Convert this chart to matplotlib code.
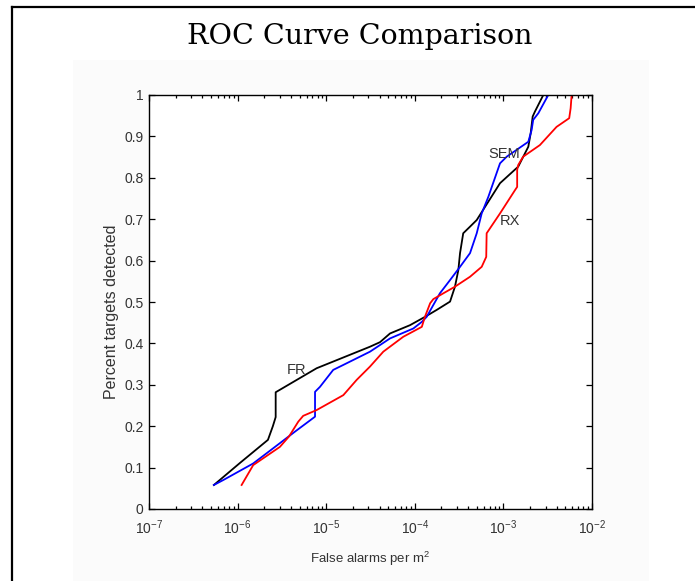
import matplotlib
matplotlib.use('Agg')
import matplotlib.pyplot as plt
from matplotlib.ticker import FixedLocator, FixedFormatter, LogLocator, NullFormatter
from matplotlib.lines import Line2D
from matplotlib.patches import Rectangle

plt.rcParams['font.family'] = ['Liberation Sans', 'DejaVu Sans']
plt.rcParams['mathtext.fontset'] = 'custom'
plt.rcParams['mathtext.rm'] = 'Liberation Sans'
plt.rcParams['mathtext.it'] = 'Liberation Sans:italic'
plt.rcParams['mathtext.bf'] = 'Liberation Sans:bold'

title = 'ROC Curve Comparison'
x_label = 'False alarms per m$^2$'
y_label = 'Percent targets detected'

x_ticks = [1e-7, 1e-6, 1e-5, 1e-4, 1e-3, 1e-2]
x_tick_labels = ['$10^{-7}$', '$10^{-6}$', '$10^{-5}$', '$10^{-4}$', '$10^{-3}$', '$10^{-2}$']
y_ticks = [0, 0.1, 0.2, 0.3, 0.4, 0.5, 0.6, 0.7, 0.8, 0.9, 1.0]
y_tick_labels = ['0', '0.1', '0.2', '0.3', '0.4', '0.5', '0.6', '0.7', '0.8', '0.9', '1']

# FR (black)
fr_x = [5.4e-7, 1.06e-6, 2.2e-6, 2.5e-6, 2.69e-6, 2.69e-6, 7.8e-6, 3.12e-5, 4.05e-5,
        5.25e-5, 8.82e-5, 1.3e-4, 1.77e-4, 2.5e-4, 2.84e-4, 3.1e-4, 3.24e-4, 3.52e-4,
        4.2e-4, 5.0e-4, 9.16e-4, 1.47e-3, 1.91e-3, 2.03e-3, 2.14e-3, 2.27e-3, 2.82e-3]
fr_y = [0.058, 0.111, 0.167, 0.200, 0.222, 0.282, 0.340, 0.392, 0.403,
        0.424, 0.444, 0.464, 0.481, 0.501, 0.537, 0.577, 0.618, 0.666,
        0.682, 0.698, 0.787, 0.827, 0.875, 0.907, 0.948, 0.960, 1.0]

# SEM (blue)
sem_x = [5.4e-7, 6.9e-7, 1.5e-6, 3.0e-6, 4.45e-6, 7.48e-6, 7.48e-6, 8.5e-6, 1.2e-5,
         1.56e-5, 3.12e-5, 5.25e-5, 9.62e-5, 1.2e-4, 1.36e-4, 1.92e-4, 2.5e-4, 3.24e-4,
         4.2e-4, 5.0e-4, 5.45e-4, 5.69e-4, 6.76e-4, 9.16e-4, 1.09e-3, 1.91e-3, 2.08e-3,
         2.17e-3, 2.48e-3, 3.21e-3]
sem_y = [0.058, 0.070, 0.110, 0.159, 0.187, 0.223, 0.283, 0.295, 0.336,
         0.348, 0.380, 0.412, 0.436, 0.452, 0.464, 0.521, 0.553, 0.585,
         0.618, 0.666, 0.698, 0.714, 0.754, 0.835, 0.851, 0.887, 0.915,
         0.940, 0.956, 1.0]

# RX (red)
rx_x = [1.11e-6, 1.5e-6, 3.0e-6, 3.8e-6, 4.84e-6, 5.5e-6, 7.8e-6, 1.56e-5, 2.21e-5,
        3.12e-5, 4.41e-5, 7.41e-5, 1.2e-4, 1.3e-4, 1.49e-4, 1.62e-4, 2.1e-4, 2.84e-4,
        4.2e-4, 5.69e-4, 6.4e-4, 6.47e-4, 9.16e-4, 1.35e-3, 1.43e-3, 1.43e-3, 1.47e-3,
        1.67e-3, 2.58e-3, 3.98e-3, 5.53e-3, 5.74e-3, 5.89e-3]
rx_y = [0.058, 0.106, 0.150, 0.175, 0.211, 0.225, 0.239, 0.275, 0.312,
        0.344, 0.380, 0.416, 0.440, 0.464, 0.497, 0.507, 0.521, 0.537,
        0.561, 0.585, 0.609, 0.666, 0.714, 0.770, 0.778, 0.819, 0.831,
        0.851, 0.879, 0.923, 0.944, 0.968, 1.0]

labels = ['FR', 'SEM', 'RX']
label_x = [4.65e-6, 1.02e-3, 1.19e-3]
label_y = [0.336, 0.857, 0.696]

W, H = 695, 581
fig = plt.figure(figsize=(W / 100, H / 100), dpi=100)
fig.patch.set_facecolor('white')

# faint inner panel
fig.patches.append(Rectangle((73 / W, 0), (649 - 73) / W, (H - 60) / H,
                             transform=fig.transFigure, facecolor='#fbfbfb',
                             edgecolor='none', zorder=-10))
# outer frame lines
fig.add_artist(Line2D([12 / W, 12 / W], [0, 1 - 7 / H], transform=fig.transFigure,
                      color='black', lw=1.6))
fig.add_artist(Line2D([12 / W, 1], [1 - 7 / H, 1 - 7 / H], transform=fig.transFigure,
                      color='black', lw=1.6))

fig.text(360 / W, 1 - 36 / H, title, ha='center', va='center',
         fontsize=20.5, family='DejaVu Serif', color='black')

ax = fig.add_axes([149 / W, (H - 509) / H, (592 - 149) / W, (509 - 95) / H])
ax.set_zorder(5)
ax.set_facecolor('white')

ax.plot(fr_x, fr_y, color='black', lw=1.3)
ax.plot(sem_x, sem_y, color='#0000ff', lw=1.3)
ax.plot(rx_x, rx_y, color='#ff0000', lw=1.3)

for t, lx, ly in zip(labels, label_x, label_y):
    ax.text(lx, ly, t, ha='center', va='center', fontsize=10.5, color='#333333')

ax.set_xscale('log')
ax.set_xlim(1e-7, 1e-2)
ax.set_ylim(0, 1)
ax.xaxis.set_major_locator(FixedLocator(x_ticks))
ax.xaxis.set_major_formatter(FixedFormatter(x_tick_labels))
ax.xaxis.set_minor_locator(LogLocator(base=10, subs=range(2, 10), numticks=20))
ax.xaxis.set_minor_formatter(NullFormatter())
ax.yaxis.set_major_locator(FixedLocator(y_ticks))
ax.yaxis.set_major_formatter(FixedFormatter(y_tick_labels))

ax.tick_params(which='both', direction='in', top=True, right=True,
               labelsize=10, labelcolor='#333333', width=0.9, color='black')
ax.tick_params(which='major', length=4, pad=4)
ax.tick_params(axis='x', which='major', pad=7)
ax.tick_params(which='minor', length=2.5)
for s in ax.spines.values():
    s.set_linewidth(1.0)
    s.set_color('black')

ax.set_xlabel(x_label, fontsize=9.5, color='#333333', labelpad=9)
ax.set_ylabel(y_label, fontsize=11.5, color='#333333')
ax.yaxis.set_label_coords(-0.068, 0.476)

fig.savefig('out.png', dpi=100)
